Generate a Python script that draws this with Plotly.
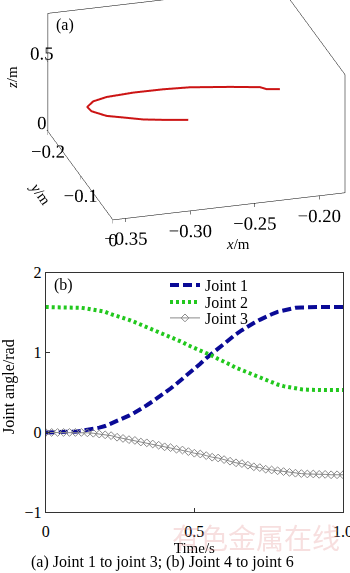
import plotly.graph_objects as go

# ---------- panel (a): end-effector trajectory ----------
traj_x = [-0.194, -0.2035, -0.2072, -0.2285, -0.2573, -0.2774, -0.3006, -0.3219,
          -0.3337, -0.341, -0.3401, -0.3318, -0.3208, -0.3075, -0.2934, -0.2756]
traj_y = [-0.1447, -0.1479, -0.1537, -0.1615, -0.1705, -0.1728, -0.1732, -0.1705,
          -0.1648, -0.1545, -0.1445, -0.1312, -0.1239, -0.1149, -0.1092, -0.1032]
traj_z = [0.30, 0.30, 0.30, 0.30, 0.30, 0.30, 0.30, 0.30,
          0.30, 0.30, 0.30, 0.30, 0.30, 0.30, 0.30, 0.30]

x3_ticks = [-0.35, -0.30, -0.25, -0.20]
y3_ticks = [-0.2, -0.1, 0]
z3_ticks = [0, 0.5]

# ---------- panel (b): joint angles ----------
time_s = [0.00, 0.02, 0.04, 0.06, 0.08, 0.10, 0.12, 0.14, 0.16, 0.18,
          0.20, 0.22, 0.24, 0.26, 0.28, 0.30, 0.32, 0.34, 0.36, 0.38,
          0.40, 0.42, 0.44, 0.46, 0.48, 0.50, 0.52, 0.54, 0.56, 0.58,
          0.60, 0.62, 0.64, 0.66, 0.68, 0.70, 0.72, 0.74, 0.76, 0.78,
          0.80, 0.82, 0.84, 0.86, 0.88, 0.90, 0.92, 0.94, 0.96, 0.98, 1.00]
joint1 = [0.0, 0.0, 0.0, 0.0, 0.005, 0.01, 0.02, 0.03, 0.045, 0.06,
          0.08, 0.11, 0.14, 0.17, 0.21, 0.25, 0.29, 0.34, 0.39, 0.44,
          0.49, 0.55, 0.61, 0.67, 0.73, 0.79, 0.86, 0.93, 0.99, 1.06,
          1.12, 1.18, 1.23, 1.28, 1.33, 1.37, 1.41, 1.45, 1.48, 1.51,
          1.53, 1.55, 1.56, 1.565, 1.57, 1.57, 1.57, 1.57, 1.57, 1.57, 1.57]
joint2 = [1.57, 1.57, 1.57, 1.57, 1.57, 1.565, 1.56, 1.55, 1.54, 1.52,
          1.51, 1.48, 1.46, 1.43, 1.41, 1.38, 1.35, 1.32, 1.29, 1.26,
          1.23, 1.20, 1.16, 1.13, 1.09, 1.06, 1.03, 0.99, 0.96, 0.92,
          0.89, 0.85, 0.81, 0.78, 0.74, 0.71, 0.68, 0.65, 0.62, 0.60,
          0.58, 0.565, 0.55, 0.54, 0.535, 0.53, 0.53, 0.53, 0.53, 0.53, 0.53]
joint3 = [0.0, 0.0, 0.0, 0.0, 0.0, 0.0, 0.0, -0.005, -0.01, -0.02,
          -0.03, -0.04, -0.06, -0.075, -0.09, -0.10, -0.12, -0.13, -0.145, -0.16,
          -0.18, -0.19, -0.21, -0.22, -0.24, -0.26, -0.27, -0.29, -0.31, -0.32,
          -0.34, -0.36, -0.38, -0.39, -0.41, -0.43, -0.44, -0.46, -0.47, -0.48,
          -0.49, -0.50, -0.51, -0.515, -0.52, -0.52, -0.525, -0.525, -0.53, -0.53, -0.53]
series_names = ["Joint 1", "Joint 2", "Joint 3"]
x2_ticks = [0, 0.5, 1.0]
x2_ticktext = ["0", "0.5", "1.0"]
y2_ticks = [-1, 0, 1, 2]

SERIF = "Liberation Serif, Times New Roman, serif"
W, H = 350, 573

fig = go.Figure()

fig.add_trace(go.Scatter3d(
    x=traj_x, y=traj_y, z=traj_z, mode="lines",
    line=dict(color="#cc1414", width=4), showlegend=False, scene="scene"))

fig.add_trace(go.Scatter(
    x=time_s, y=joint1, mode="lines", name=series_names[0], legend="legend",
    line=dict(color="#0a0a96", width=4, dash="9px,4px")))
fig.add_trace(go.Scatter(
    x=time_s, y=joint2, mode="lines", name=series_names[1], legend="legend2",
    line=dict(color="#22c81e", width=4, dash="3px,3px")))
fig.add_trace(go.Scatter(
    x=time_s, y=joint3, mode="lines+markers", name=series_names[2], legend="legend3",
    line=dict(color="#8a8a8a", width=1),
    marker=dict(symbol="diamond-open", size=6, color="#8a8a8a", line=dict(width=1))))

axis3 = dict(showgrid=False, showbackground=False, zeroline=False, showspikes=False,
             showline=True, linecolor="black", linewidth=1, ticks="inside",
             ticklen=4, tickcolor="black", mirror=True, tickangle=0,
             tickfont=dict(family=SERIF, size=15, color="black"),
             title=dict(text=""))

def legend_row(py):
    return dict(x=165 / W, y=1 - py / H, xanchor="left", yanchor="middle",
                bgcolor="rgba(0,0,0,0)", itemwidth=30,
                font=dict(family=SERIF, size=16, color="black"))

S = 1.92
EYE = 0.95
OFF = (-0.184, 0.022, -0.167)
fig.update_layout(
    width=W, height=H, autosize=False,
    margin=dict(l=0, r=0, t=0, b=0),
    paper_bgcolor="white", plot_bgcolor="white",
    font=dict(family=SERIF, size=15, color="black"),
    scene=dict(
        domain=dict(x=[0.0, 1.0], y=[0.56, 1.0]),
        aspectmode="manual", aspectratio=dict(x=1 * S, y=0.956 * S, z=0.532 * S),
        camera=dict(projection=dict(type="orthographic"),
                    eye=dict(x=0.258 * EYE + OFF[0], y=-0.880 * EYE + OFF[1],
                             z=-0.399 * EYE + OFF[2]),
                    up=dict(x=0, y=0, z=1),
                    center=dict(x=OFF[0], y=OFF[1], z=OFF[2])),
        xaxis=dict(axis3, range=[-0.36, -0.18], tickvals=x3_ticks, tickformat=".2f"),
        yaxis=dict(axis3, range=[-0.2, 0.0], tickvals=y3_ticks, tickformat=".1~f"),
        zaxis=dict(axis3, range=[0, 0.85], tickvals=z3_ticks, tickformat=".1~f"),
    ),
    xaxis=dict(domain=[0.1306, 0.98], range=[0, 1.0], tickvals=x2_ticks, ticktext=x2_ticktext,
               showline=True, linecolor="#333", mirror=True, ticks="inside", ticklen=4,
               tickcolor="#333", showgrid=False, zeroline=False, ticklabeloverflow="allow",
               ticklabelstandoff=4, automargin=False,
               tickfont=dict(family=SERIF, size=16, color="black"),
               title=dict(text="Time/s", font=dict(family=SERIF, size=15), standoff=3)),
    yaxis=dict(domain=[0.1059, 0.5241], range=[-1, 2], tickvals=y2_ticks,
               showline=True, linecolor="#333", mirror=True, ticks="inside", ticklen=4,
               tickcolor="#333", showgrid=False, zeroline=False, automargin=False,
               tickfont=dict(family=SERIF, size=16, color="black"),
               title=dict(text="")),
    legend=legend_row(285),
    legend2=legend_row(302),
    legend3=legend_row(318),
)

def label(text, px, py, size=15, angle=0, anchor="center", color="black", family=SERIF):
    fig.add_annotation(text=text, xref="paper", yref="paper", x=px / W, y=1 - py / H,
                       showarrow=False, xanchor=anchor, yanchor="middle", textangle=angle,
                       font=dict(family=family, size=size, color=color))

# axis titles
label("<i>z</i>/m", 12, 78, angle=-90)
label("<i>y</i>/m", 40, 193, angle=55)
label("<i>x</i>/m", 238, 244)
label("Joint angle/rad", 9, 387, size=16, angle=-90)
# panel tags and caption
label("(a)", 54, 25, size=16, anchor="left")
label("(b)", 52, 285, size=16, anchor="left")
label("(a) Joint 1 to joint 3; (b) Joint 4 to joint 6", 162, 562, size=16)
label("有色金属在线", 256, 537, size=28, color="rgba(225,140,140,0.28)",
      family="Noto Sans CJK SC")

fig.write_html("out.html")
